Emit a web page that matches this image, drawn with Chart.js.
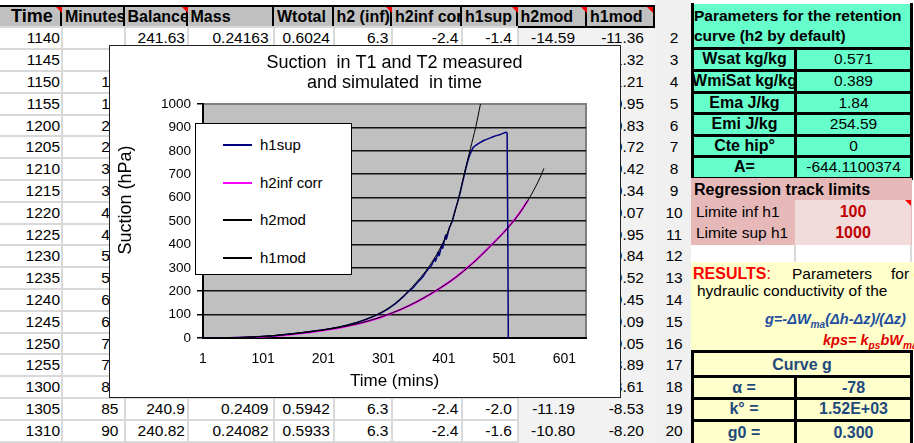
<!DOCTYPE html>
<html>
<head>
<meta charset="utf-8">
<script src="https://cdn.jsdelivr.net/npm/chart.js@4.4.1/dist/chart.umd.min.js"></script>
<style>
  body { margin: 0; width: 914px; height: 443px; overflow: hidden; position: relative; background: #fff;
         font-family: "Liberation Sans", Arial, sans-serif; color: #000; }
  .c { position: absolute; box-sizing: border-box; white-space: nowrap; overflow: hidden; font-size: 15.5px; }
  .flexc { display: flex; align-items: center; justify-content: center; }
  .tri { position: absolute; width: 0; height: 0; border-left: 6px solid transparent; border-top: 6px solid #f00; }
  #chartBox { position: absolute; left: 109px; top: 45px; width: 512px; height: 353px; box-sizing: border-box;
              border: 1px solid #222; background: #fff; }
  #legend { position: absolute; left: 195px; top: 123px; width: 157px; height: 152px; box-sizing: border-box;
            border: 1px solid #000; background: #fff; }
  .leg { position: absolute; left: 0; height: 20px; width: 150px; }
  .leg span.s { position: absolute; left: 27px; top: 9px; width: 29px; }
  .leg span.t { position: absolute; left: 64px; top: 0; font-size: 15px; line-height: 20px; }
  sub { font-size: 70%; }
</style>
</head>
<body>
<div id="sheet"></div>
<div id="chartBox"><canvas id="chart" width="510" height="351"></canvas></div>
<div id="legend"></div>
<div id="panel"></div>

<script>
// ---- chart data ----
const seriesNames = ['h1sup', 'h2inf corr', 'h2mod', 'h1mod'];
const xTicks = [1, 101, 201, 301, 401, 501, 601];

const tH1sup = [1, 30, 60, 90, 120, 150, 180, 210, 240, 270, 300, 320, 335, 345, 350, 358, 365, 372, 378, 380,
                386, 387, 392, 393, 398, 399, 404, 405, 410, 415, 420, 426, 432, 438, 443, 450, 459, 468, 476,
                485, 495, 504, 506, 508];
const vH1sup = [0, 0, 2, 5, 10, 18, 28, 39, 55, 78, 112, 146, 180, 205, 215, 240, 258, 285, 305, 308,
                340, 328, 368, 352, 400, 384, 440, 422, 470, 500, 548, 600, 665, 730, 775, 815, 832, 845, 853,
                862, 870, 879, 875, 0];

const tH2inf = [1, 30, 60, 90, 120, 150, 180, 210, 240, 270, 300, 330, 360, 393, 420, 448, 475, 504, 525, 541];
const vH2inf = [0, 0, 1, 4, 9, 16, 25, 36, 50, 68, 92, 122, 160, 210, 258, 318, 385, 462, 528, 590];

const tH2mod = [1, 30, 60, 90, 120, 150, 180, 210, 240, 270, 300, 330, 360, 393, 420, 448, 475, 504, 525, 541, 554, 562, 567];
const vH2mod = [0, 0.5, 2, 5, 10, 17, 26, 37, 51, 69, 93, 123, 161, 211, 258, 317, 384, 461, 527, 590, 650, 693, 725];

const tH1mod = [1, 30, 60, 90, 120, 150, 180, 210, 240, 270, 300, 320, 340, 355, 370, 385, 400, 415, 426, 435, 445, 454, 462, 470];
const vH1mod = [0, 0.5, 2, 5, 11, 19, 28, 39, 55, 78, 114, 148, 195, 237, 283, 340, 410, 504, 604, 704, 809, 903, 1003, 1100];

// ---- spreadsheet content ----
const sheetHeaders = ['Time', 'Minutes', 'Balance', 'Mass', 'Wtotal', 'h2 (inf)', 'h2inf corr', 'h1sup', 'h2mod', 'h1mod'];
const sheetTime = [1140, 1145, 1150, 1155, 1200, 1205, 1210, 1215, 1220, 1225, 1230, 1235, 1240, 1245, 1250, 1255, 1300, 1305, 1310];
const sheetMinutes = ['', 5, 10, 15, 20, 25, 30, 35, 40, 45, 50, 55, 60, 65, 70, 75, 80, 85, 90];
const sheetH1mod = ['-11.36', '-11.32', '-11.21', '-10.95', '-10.83', '-10.72', '-10.42', '-10.34', '-10.07', '-9.95',
                    '-9.84', '-9.52', '-9.45', '-9.09', '-9.05', '-8.89', '-8.61', '-8.53', '-8.20'];
const firstRow = ['241.63', '0.24163', '0.6024', '6.3', '-2.4', '-1.4', '-14.59'];
const row1305 = ['240.9', '0.2409', '0.5942', '6.3', '-2.4', '-2.0', '-11.19'];
const row1310 = ['240.82', '0.24082', '0.5933', '6.3', '-2.4', '-1.6', '-10.80'];

const FAM = '"Liberation Sans", Arial, sans-serif';

// ---- build the sheet ----
const sheet = document.getElementById('sheet');
const colX = [0, 62, 124.5, 187.5, 274, 333.5, 392, 462, 517.5, 587, 655];
const padR = [2, 6, 2.5, 5.5, 3.5, 3.5, 3.5, 5.5, 12, 11];
const rowTop = 27.4, rowH = 21.8;

function add(parent, html, css) {
  const d = document.createElement('div');
  d.className = 'c';
  d.style.cssText = css;
  d.innerHTML = html;
  parent.appendChild(d);
  return d;
}

// light gray column for row numbers
add(sheet, '', 'left:655px;top:0;width:36px;height:443px;background:#f0f0f0;');
// shaded h2mod / h1mod columns
add(sheet, '', `left:${colX[8]}px;top:27px;width:${colX[10] - colX[8]}px;height:416px;background:#f2f2f2;`);

// header
add(sheet, '', 'left:0;top:5px;width:655px;height:23px;background:#c0c0c0;border-top:2px solid #000;border-bottom:2px solid #000;');
sheetHeaders.forEach((h, i) => {
  const w = colX[i + 1] - colX[i];
  const fs = i === 0 ? 18 : 16;
  add(sheet, h, `left:${colX[i]}px;top:7px;width:${w}px;height:19px;line-height:19px;padding-left:${i === 0 ? 11 : 3}px;` +
      `font-weight:bold;font-size:${fs}px;border-right:2px solid #000;`);
});
[[56, 7], [181.5, 7], [386, 7], [511.5, 7], [581, 7], [647, 7]].forEach(p => {
  const t = document.createElement('div');
  t.className = 'tri';
  t.style.left = p[0] + 'px';
  t.style.top = p[1] + 'px';
  sheet.appendChild(t);
});

// grid lines for the white columns
for (let r = 0; r <= sheetTime.length; r++) {
  add(sheet, '', `left:0;top:${rowTop + rowH * r - 1}px;width:${colX[8]}px;height:2px;background:#d9d9d9;`);
}
for (let i = 1; i <= 8; i++) {
  add(sheet, '', `left:${colX[i] - 1}px;top:28px;width:2px;height:415px;background:#d9d9d9;`);
}

// cell values
sheetTime.forEach((t, r) => {
  let vals = ['', '', '', '', '', '', ''];
  if (r === 0) vals = firstRow;
  if (r === 17) vals = row1305;
  if (r === 18) vals = row1310;
  const rowVals = [String(t), String(sheetMinutes[r]), ...vals, sheetH1mod[r]];
  const top = rowTop + rowH * r;
  rowVals.forEach((v, i) => {
    if (v === '') return;
    const w = colX[i + 1] - colX[i];
    add(sheet, v, `left:${colX[i]}px;top:${top}px;width:${w}px;height:${rowH}px;line-height:${rowH}px;` +
        `text-align:right;padding-right:${padR[i]}px;font-size:15.5px;`);
  });
  add(sheet, String(r + 2), `left:655px;top:${top}px;width:38px;height:${rowH}px;line-height:${rowH}px;text-align:center;font-size:15.5px;`);
});

// ---- right panel ----
const panel = document.getElementById('panel');
const teal = '#66ffcc';
add(panel, '', `left:691px;top:4px;width:221px;height:175px;background:${teal};`);
add(panel, 'Parameters for the retention<br>curve (h2 by default)',
    'left:694px;top:6px;width:218px;height:42px;line-height:20px;font-weight:bold;font-size:15.5px;white-space:nowrap;');
const tealLabels = ['Wsat kg/kg', 'WmiSat kg/kg', 'Ema J/kg', 'Emi J/kg', 'Cte hip°', 'A='];
const tealValues = ['0.571', '0.389', '1.84', '254.59', '0', '-644.1100374'];
const tealY = [48, 70, 92, 113.5, 135, 156.5, 178];
tealLabels.forEach((lab, i) => {
  const top = tealY[i], h = tealY[i + 1] - tealY[i];
  add(panel, `<span>${lab}</span>`, `left:694px;top:${top}px;width:101px;height:${h}px;font-weight:bold;font-size:16px;`).classList.add('flexc');
  add(panel, `<span>${tealValues[i]}</span>`, `left:797px;top:${top}px;width:113px;height:${h}px;font-size:15.5px;`).classList.add('flexc');
});
tealY.forEach(y => add(panel, '', `left:691px;top:${y - 1.5}px;width:222px;height:3px;background:#000;`));
add(panel, '', 'left:691px;top:2.5px;width:3px;height:177px;background:#000;');
add(panel, '', 'left:794px;top:47px;width:3px;height:132px;background:#000;');
add(panel, '', 'left:910px;top:2.5px;width:3px;height:177px;background:#000;');

// regression limits
add(panel, '', 'left:691px;top:178px;width:221px;height:67px;background:#e6b9b8;');
add(panel, '', 'left:795px;top:200px;width:116px;height:45px;background:#f2dcdb;');
add(panel, 'Regression track limits', 'left:694px;top:179px;width:215px;height:21px;line-height:21px;font-weight:bold;font-size:16px;');
add(panel, 'Limite inf h1', 'left:696px;top:201px;width:99px;height:21px;line-height:21px;font-size:15.5px;');
add(panel, 'Limite sup h1', 'left:696px;top:222px;width:99px;height:21px;line-height:21px;font-size:15.5px;');
add(panel, '100', 'left:795px;top:201px;width:116px;height:21px;line-height:21px;text-align:center;font-weight:bold;color:#c00000;font-size:16px;');
add(panel, '1000', 'left:795px;top:222px;width:116px;height:21px;line-height:21px;text-align:center;font-weight:bold;color:#c00000;font-size:16px;');
const tri2 = document.createElement('div');
tri2.className = 'tri';
tri2.style.cssText = 'left:905px;top:200px;';
panel.appendChild(tri2);
add(panel, '', 'left:794px;top:245px;width:2px;height:17px;background:#d9d9d9;');
add(panel, '', 'left:910px;top:245px;width:2px;height:17px;background:#d9d9d9;');

// results
add(panel, '', 'left:691px;top:262px;width:223px;height:89px;background:#ffffcc;');
add(panel, '<span style="color:#f00;font-weight:bold;">RESULTS</span>:', 'left:693px;top:264px;width:95px;height:20px;line-height:20px;font-size:16px;color:#f00;');
add(panel, 'Parameters', 'left:792px;top:264px;width:90px;height:20px;line-height:20px;font-size:15.5px;');
add(panel, 'for g and', 'left:891px;top:264px;width:23px;height:20px;line-height:20px;font-size:15.5px;');
add(panel, 'hydraulic conductivity of the', 'left:697px;top:281px;width:217px;height:20px;line-height:20px;font-size:15.5px;');
add(panel, 'g=-ΔW<sub>ma</sub>(Δh-Δz)/(Δz)', 'left:765px;top:309px;width:149px;height:20px;line-height:20px;font-size:14.5px;font-weight:bold;font-style:italic;color:#1f4e9d;');
add(panel, 'kps= k<sub>ps</sub>bW<sub>ma</sub>', 'left:823px;top:330px;width:91px;height:20px;line-height:20px;font-size:14.5px;font-weight:bold;font-style:italic;color:#e00000;');

// curve g table
add(panel, '', 'left:691px;top:351px;width:221px;height:92px;background:#ffffcc;');
const gY = [351.5, 376.5, 398.3, 420, 444];
add(panel, 'Curve g', 'left:694px;top:353px;width:216px;height:23px;line-height:23px;text-align:center;font-weight:bold;color:#1f497d;font-size:16px;');
const gLabels = ['α =', 'k° =', 'g0 ='];
const gValues = ['-78', '1.52E+03', '0.300'];
gLabels.forEach((lab, i) => {
  const top = gY[i + 1], h = gY[i + 2] - gY[i + 1];
  add(panel, lab, `left:694px;top:${top + 1}px;width:100px;height:${h - 1}px;line-height:${h - 1}px;text-align:center;font-weight:bold;color:#1f497d;font-size:16px;`);
  add(panel, gValues[i], `left:797px;top:${top + 1}px;width:113px;height:${h - 1}px;line-height:${h - 1}px;text-align:center;font-weight:bold;color:#1f497d;font-size:16px;`);
});
gY.slice(0, 4).forEach(y => add(panel, '', `left:691px;top:${y - 1.5}px;width:222px;height:3px;background:#000;`));
add(panel, '', 'left:691px;top:350px;width:3px;height:93px;background:#000;');
add(panel, '', 'left:794px;top:376px;width:3px;height:67px;background:#000;');
add(panel, '', 'left:910px;top:350px;width:3px;height:93px;background:#000;');

// ---- chart ----
const pts = (t, v) => t.map((x, i) => ({ x: x, y: v[i] }));

const plotBg = {
  id: 'plotBg',
  beforeDraw(chart) {
    const { ctx, chartArea: a } = chart;
    ctx.save();
    ctx.fillStyle = '#c0c0c0';
    ctx.fillRect(a.left, a.top, a.width, a.height);
    ctx.strokeStyle = '#808080';
    ctx.lineWidth = 2;
    ctx.beginPath();
    ctx.moveTo(a.left, a.top);
    ctx.lineTo(a.right, a.top);
    ctx.lineTo(a.right, a.bottom);
    ctx.stroke();
    ctx.restore();
  }
};

const yTitle = {
  id: 'yTitle',
  afterDraw(chart) {
    const ctx = chart.ctx;
    ctx.save();
    ctx.translate(16, 154);
    ctx.rotate(-Math.PI / 2);
    ctx.font = '18px ' + FAM;
    ctx.fillStyle = '#000';
    ctx.textAlign = 'center';
    ctx.textBaseline = 'middle';
    ctx.fillText('Suction (hPa)', 0, 0);
    ctx.restore();
  }
};

const chart = new Chart(document.getElementById('chart').getContext('2d'), {
  type: 'line',
  data: {
    datasets: [
      { label: seriesNames[0], data: pts(tH1sup, vH1sup), borderColor: '#000080', borderWidth: 1.5, pointRadius: 0, order: 1, tension: 0.2 },
      { label: seriesNames[1], data: pts(tH2inf, vH2inf), borderColor: '#ff00ff', borderWidth: 2, pointRadius: 0, order: 1, cubicInterpolationMode: 'monotone' },
      { label: seriesNames[2], data: pts(tH2mod, vH2mod), borderColor: '#000000', borderWidth: 1, pointRadius: 0, order: 0, cubicInterpolationMode: 'monotone' },
      { label: seriesNames[3], data: pts(tH1mod, vH1mod), borderColor: '#000000', borderWidth: 1, pointRadius: 0, order: 0, cubicInterpolationMode: 'monotone' }
    ]
  },
  options: {
    responsive: false,
    animation: false,
    layout: { padding: { left: 0, top: 0, bottom: 0, right: 34 } },
    plugins: {
      legend: { display: false },
      tooltip: { enabled: false },
      title: {
        display: true,
        fullSize: false,
        text: ['Suction  in T1 and T2 measured', 'and simulated  in time'],
        color: '#000',
        font: { family: FAM, size: 18, weight: 'normal', lineHeight: 1.12 },
        padding: { top: 7, bottom: 10.7 }
      }
    },
    scales: {
      x: {
        type: 'linear',
        min: 1,
        max: 637,
        afterBuildTicks: s => { s.ticks = xTicks.map(v => ({ value: v })); },
        afterFit: s => { s.height = 59; },
        grid: { display: false, drawTicks: false },
        border: { display: true, color: '#000', width: 2 },
        ticks: { color: '#000', font: { family: FAM, size: 14 }, padding: 12.5, maxRotation: 0, autoSkip: false },
        title: { display: true, text: 'Time (mins)', color: '#000', font: { family: FAM, size: 17 }, padding: { top: 0, bottom: 5 } }
      },
      y: {
        min: 0,
        max: 1000,
        afterFit: s => { s.width = 93; },
        ticks: { stepSize: 100, color: '#000', font: { family: FAM, size: 13.5 }, padding: 6, callback: v => String(v) },
        grid: { color: c => (c.tick && c.tick.value === 1000 ? '#808080' : '#111'), tickColor: '#000', tickLength: 6, lineWidth: 1.5 },
        border: { display: true, color: '#000', width: 2 }
      }
    }
  },
  plugins: [plotBg, yTitle]
});

// legend in its own box, as in the sheet
const legend = document.getElementById('legend');
const legTops = [11, 48.7, 86.3, 124.3];
chart.data.datasets.forEach((ds, i) => {
  const row = document.createElement('div');
  row.className = 'leg';
  row.style.top = legTops[i] + 'px';
  const lw = ds.borderColor === '#ff00ff' ? 2.5 : 1.5;
  row.innerHTML = `<span class="s" style="height:${lw}px;background:${ds.borderColor};"></span><span class="t">${ds.label}</span>`;
  legend.appendChild(row);
});
</script>
</body>
</html>
